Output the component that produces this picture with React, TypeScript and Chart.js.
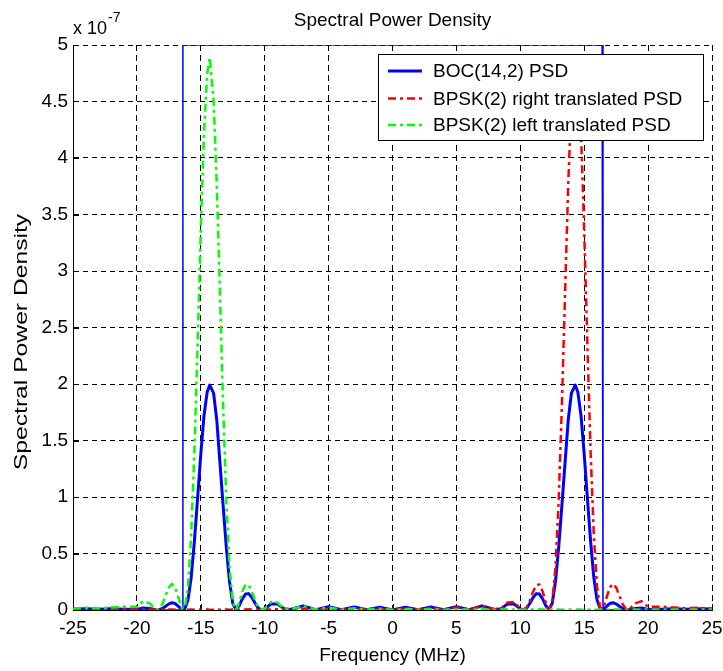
import React, { useEffect, useRef } from "react";
import { Chart, registerables } from "chart.js";

Chart.register(...registerables);

// ---------------- data (PSD values in units of 1e-7) ----------------
const freqMHz = [
  -25, -24, -23, -22, -21, -20, -19.5, -19,
  -18.5, -18.25, -18, -17.75, -17.5, -17.25, -17, -16.75,
  -16.5, -16.25, -16, -15.75, -15.5, -15.25, -15, -14.75,
  -14.5, -14.3, -14, -13.75, -13.5, -13.25, -13, -12.75,
  -12.5, -12.25, -12, -11.75, -11.5, -11.25, -11, -10.75,
  -10.5, -10.25, -10, -9.5, -9, -8.5, -8, -7,
  -6, -5, -4, -3, -2, -1, 0, 1,
  2, 3, 4, 5, 6, 7, 8, 8.5,
  9, 9.5, 10, 10.25, 10.5, 10.75, 11, 11.25,
  11.5, 11.75, 12, 12.25, 12.5, 12.75, 13, 13.25,
  13.5, 13.75, 14, 14.3, 14.5, 14.75, 15, 15.25,
  15.5, 15.75, 16, 16.25, 16.5, 16.75, 17, 17.25,
  17.5, 17.75, 18, 18.25, 18.5, 19, 19.5, 20,
  21, 22, 23, 24, 25,
];

const bocPsd = [
  0.008, 0.012, 0.006, 0.011, 0.007, 0.005, 0.017, 0.013,
  0.002, 0.003, 0.014, 0.034, 0.054, 0.064, 0.057, 0.032,
  0.006, 0.012, 0.09, 0.29, 0.61, 0.99, 1.38, 1.72,
  1.93, 1.99, 1.92, 1.68, 1.3, 0.92, 0.55, 0.25,
  0.06, 0.005, 0.037, 0.098, 0.141, 0.145, 0.111, 0.06,
  0.016, 0.002, 0.009, 0.054, 0.053, 0.012, 0.004, 0.037,
  0.003, 0.03, 0.002, 0.026, 0.002, 0.025, 0.001, 0.025,
  0.002, 0.026, 0.002, 0.03, 0.003, 0.037, 0.004, 0.012,
  0.053, 0.054, 0.009, 0.002, 0.016, 0.06, 0.111, 0.145,
  0.141, 0.098, 0.037, 0.005, 0.06, 0.25, 0.55, 0.92,
  1.3, 1.68, 1.92, 1.99, 1.93, 1.72, 1.38, 0.99,
  0.61, 0.29, 0.09, 0.012, 0.006, 0.032, 0.057, 0.064,
  0.054, 0.034, 0.014, 0.003, 0.002, 0.013, 0.017, 0.005,
  0.007, 0.011, 0.006, 0.012, 0.008,
];

const bpskRightPsd = [
  0.005, 0.004, 0.003, 0.004, 0.005, 0.004, 0.003, 0.004,
  0.005, 0.004, 0.003, 0.004, 0.005, 0.004, 0.003, 0.004,
  0.005, 0.004, 0.003, 0.004, 0.003, 0.004, 0.003, 0.003,
  0.004, 0.003, 0.003, 0.004, 0.003, 0.003, 0.004, 0.003,
  0.004, 0.003, 0.003, 0.004, 0.005, 0.006, 0.005, 0.004,
  0.005, 0.003, 0.004, 0.005, 0.006, 0.005, 0.003, 0.007,
  0.004, 0.006, 0.003, 0.008, 0.004, 0.009, 0.003, 0.012,
  0.004, 0.016, 0.003, 0.023, 0.004, 0.036, 0.005, 0.013,
  0.066, 0.072, 0.013, 0.002, 0.023, 0.084, 0.162, 0.22,
  0.225, 0.163, 0.064, 0.002, 0.073, 0.376, 0.96, 1.802,
  2.794, 3.762, 4.517, 4.89, 4.743, 4.218, 3.357, 2.35,
  1.403, 0.667, 0.209, 0.018, 0.018, 0.109, 0.198, 0.231,
  0.2, 0.128, 0.054, 0.01, 0.004, 0.058, 0.078, 0.028,
  0.03, 0.022, 0.016, 0.02, 0.012,
];

const bpskLeftPsd = [
  0.012, 0.02, 0.016, 0.022, 0.03, 0.028, 0.078, 0.058,
  0.004, 0.01, 0.054, 0.128, 0.2, 0.231, 0.198, 0.109,
  0.018, 0.018, 0.209, 0.667, 1.403, 2.35, 3.357, 4.218,
  4.743, 4.89, 4.517, 3.762, 2.794, 1.802, 0.96, 0.376,
  0.073, 0.002, 0.064, 0.163, 0.225, 0.22, 0.162, 0.084,
  0.023, 0.002, 0.013, 0.072, 0.066, 0.013, 0.005, 0.036,
  0.004, 0.023, 0.003, 0.016, 0.004, 0.012, 0.003, 0.009,
  0.004, 0.008, 0.003, 0.006, 0.004, 0.007, 0.003, 0.005,
  0.006, 0.005, 0.004, 0.003, 0.005, 0.004, 0.005, 0.006,
  0.005, 0.004, 0.003, 0.003, 0.004, 0.003, 0.004, 0.003,
  0.003, 0.004, 0.003, 0.003, 0.004, 0.003, 0.003, 0.004,
  0.003, 0.004, 0.003, 0.004, 0.005, 0.004, 0.003, 0.004,
  0.005, 0.004, 0.003, 0.004, 0.005, 0.004, 0.003, 0.004,
  0.005, 0.004, 0.003, 0.004, 0.005,
];

// thin blue band-limit outline
const maskFreqMHz = [-25, -16.47, -16.4, 16.4, 16.47, 25];
const maskLevel = [0, 0, 5, 5, 0, 0];

const xTicks = [-25, -20, -15, -10, -5, 0, 5, 10, 15, 20, 25];
const yTicks = [0, 0.5, 1, 1.5, 2, 2.5, 3, 3.5, 4, 4.5, 5];
const yExponentLabel = "-7";

const seriesNames = [
  "BOC(14,2) PSD",
  "BPSK(2) right translated PSD",
  "BPSK(2) left translated PSD",
];
const chartTitle = "Spectral Power Density";
const xTitle = "Frequency (MHz)";
const yTitle = "Spectral Power Density";

// ---------------- styling ----------------
const FONT = "'Liberation Sans', Arial, Helvetica, sans-serif";
const BLUE = "#0000ff";
const RED = "#ff0000";
const GREEN = "#00ff00";
const DASHDOT = [8, 4, 3, 4];

const toPoints = (xs: number[], ys: number[]) => xs.map((x, i) => ({ x, y: ys[i] }));

const decorPlugin = {
  id: "matlabDecor",
  beforeDatasetsDraw(chart: any) {
    const { ctx, chartArea: ca, scales } = chart;
    ctx.save();
    ctx.setLineDash([]);
    ctx.strokeStyle = "#000";
    ctx.lineWidth = 1;
    ctx.beginPath();
    for (const t of xTicks) {
      const px = Math.round(scales.x.getPixelForValue(t)) + 0.5;
      ctx.moveTo(px, ca.bottom);
      ctx.lineTo(px, ca.bottom - 6);
    }
    for (const t of yTicks) {
      const py = Math.round(scales.y.getPixelForValue(t)) + 0.5;
      ctx.moveTo(ca.left, py);
      ctx.lineTo(ca.left + 6, py);
    }
    ctx.stroke();
    ctx.restore();
  },
  afterDraw(chart: any) {
    const { ctx, chartArea: ca } = chart;
    ctx.save();
    ctx.fillStyle = "#000";

    // title
    ctx.font = `19px ${FONT}`;
    ctx.textAlign = "center";
    ctx.textBaseline = "middle";
    ctx.fillText(chartTitle, (ca.left + ca.right) / 2, 21);

    // y label (rotated, stretched along its length like the reference)
    ctx.save();
    ctx.translate(22, 342);
    ctx.rotate(-Math.PI / 2);
    ctx.scale(1.37, 1);
    ctx.font = `18px ${FONT}`;
    ctx.textAlign = "center";
    ctx.textBaseline = "middle";
    ctx.fillText(yTitle, 0, 0);
    ctx.restore();

    // exponent "x 10^-7"
    ctx.textAlign = "left";
    ctx.textBaseline = "alphabetic";
    ctx.font = `18px ${FONT}`;
    const base = "x 10";
    ctx.fillText(base, ca.left, 34);
    const w = ctx.measureText(base).width;
    ctx.font = `14px ${FONT}`;
    ctx.fillText(yExponentLabel, ca.left + w + 1, 22);

    // legend
    const lx = 378.5, ly = 54.5, lw = 325, lh = 86;
    ctx.fillStyle = "#fff";
    ctx.fillRect(lx, ly, lw, lh);
    ctx.strokeStyle = "#000";
    ctx.lineWidth = 1;
    ctx.setLineDash([]);
    ctx.strokeRect(lx, ly, lw, lh);
    const rows = [71, 98.5, 125];
    const ds = chart.data.datasets;
    for (let i = 0; i < 3; i++) {
      const d = ds[i];
      ctx.save();
      ctx.strokeStyle = d.borderColor;
      ctx.lineWidth = d.borderWidth;
      ctx.setLineDash(d.borderDash || []);
      ctx.beginPath();
      ctx.moveTo(388, rows[i]);
      ctx.lineTo(422, rows[i]);
      ctx.stroke();
      ctx.restore();
      ctx.fillStyle = "#000";
      ctx.font = `19px ${FONT}`;
      ctx.textAlign = "left";
      ctx.textBaseline = "middle";
      ctx.fillText(d.label, 433, rows[i] + 1);
    }
    ctx.restore();
  },
};

export default function App() {
  const ref = useRef<HTMLCanvasElement>(null);

  useEffect(() => {
    document.body.style.margin = "0";
    const canvas = ref.current;
    if (!canvas) return;
    const common = { pointRadius: 0, tension: 0, borderJoinStyle: "round", borderCapStyle: "butt" };
    const chart = new Chart(canvas, {
      type: "line",
      data: {
        datasets: [
          {
            label: seriesNames[0],
            data: toPoints(freqMHz, bocPsd),
            borderColor: BLUE,
            borderWidth: 3,
            order: 2,
            ...common,
          },
          {
            label: seriesNames[1],
            data: toPoints(freqMHz, bpskRightPsd),
            borderColor: RED,
            borderWidth: 2.5,
            borderDash: DASHDOT,
            order: 1,
            ...common,
          },
          {
            label: seriesNames[2],
            data: toPoints(freqMHz, bpskLeftPsd),
            borderColor: GREEN,
            borderWidth: 2.5,
            borderDash: DASHDOT,
            order: 0,
            ...common,
          },
          {
            label: "mask",
            data: toPoints(maskFreqMHz, maskLevel),
            borderColor: BLUE,
            borderWidth: 1.5,
            order: 3,
            ...common,
          },
        ],
      },
      options: {
        responsive: false,
        animation: false,
        devicePixelRatio: 1,
        layout: { padding: { top: 45, right: 11, bottom: 0, left: 0 } },
        plugins: {
          legend: { display: false },
          tooltip: { enabled: false },
          title: { display: false },
        },
        scales: {
          x: {
            type: "linear",
            min: -25,
            max: 25,
            afterFit: (s: any) => {
              s.height = 61;
              s.paddingLeft = 0;
              s.paddingRight = 0;
            },
            afterBuildTicks: (s: any) => {
              s.ticks = xTicks.map((v) => ({ value: v }));
            },
            ticks: {
              color: "#000",
              font: { family: FONT, size: 19 },
              padding: 7,
              maxRotation: 0,
              autoSkip: false,
              callback: (v: any) => String(v),
            },
            grid: { color: "#000", lineWidth: 1, drawTicks: false },
            border: { display: true, color: "#000", width: 1, dash: [6, 4] },
            title: {
              display: true,
              text: xTitle,
              color: "#000",
              font: { family: FONT, size: 19 },
              padding: { top: 0, bottom: 4 },
            },
          },
          y: {
            type: "linear",
            min: 0,
            max: 5,
            afterFit: (s: any) => {
              s.width = 73;
              s.paddingTop = 0;
              s.paddingBottom = 0;
            },
            afterBuildTicks: (s: any) => {
              s.ticks = yTicks.map((v) => ({ value: v }));
            },
            ticks: {
              color: "#000",
              font: { family: FONT, size: 19 },
              padding: 5,
              autoSkip: false,
              callback: (v: any) => String(v),
            },
            grid: { color: "#000", lineWidth: 1, drawTicks: false },
            border: { display: true, color: "#000", width: 1, dash: [5, 4] },
          },
        },
      },
      plugins: [decorPlugin],
    } as any);
    return () => chart.destroy();
  }, []);

  return (
    <div style={{ width: 723, height: 671 }}>
      <canvas ref={ref} width={723} height={671} style={{ display: "block", width: 723, height: 671 }} />
    </div>
  );
}
